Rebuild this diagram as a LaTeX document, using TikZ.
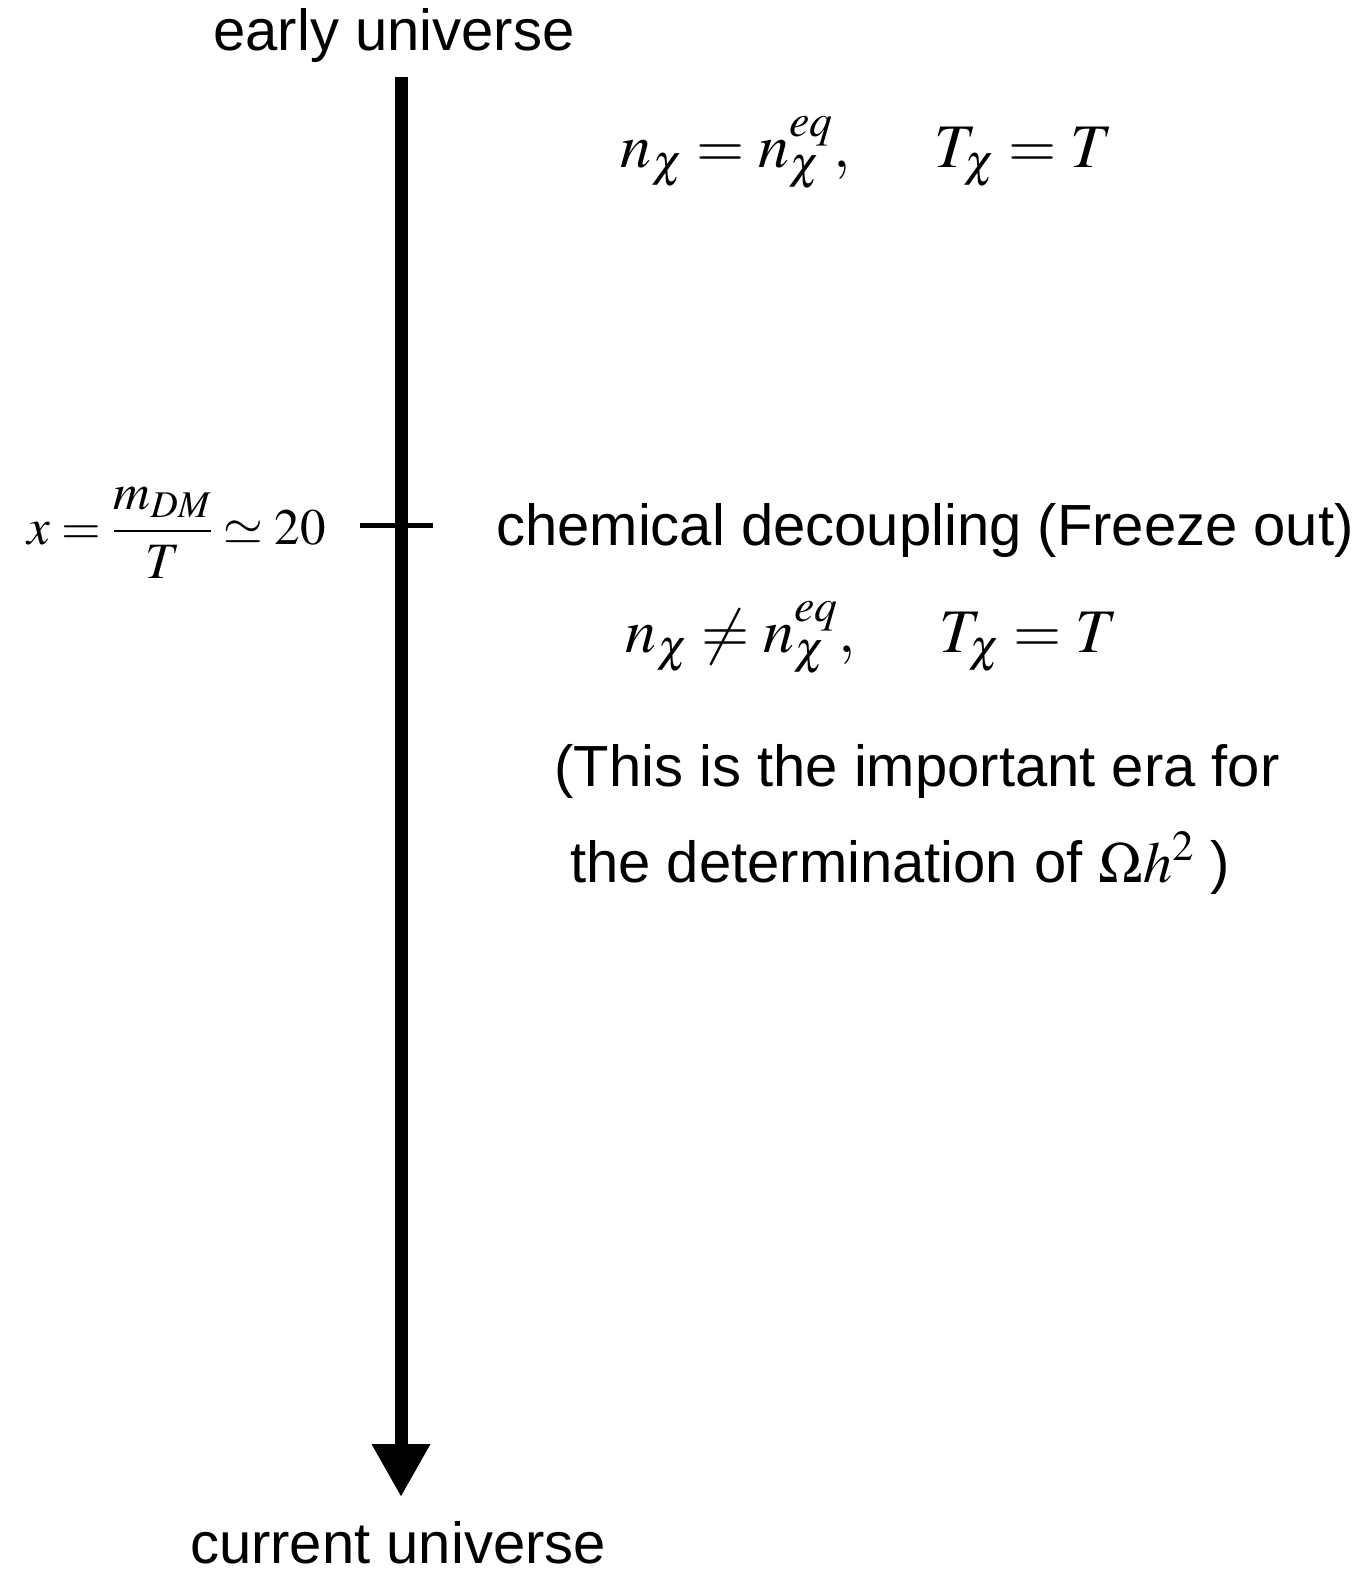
\documentclass[tikz,border=0pt]{standalone}
\usepackage{mathptmx}
\usepackage[no-math]{fontspec}
\setmainfont{Liberation Sans}
\usetikzlibrary{arrows.meta}
\begin{document}
\begin{tikzpicture}[x=1pt,y=-1pt,
  lbl/.style={inner sep=0pt,anchor=base,font=\fontsize{58}{70}\selectfont},
  eqn/.style={inner sep=0pt,anchor=base,font=\fontsize{62}{74}\selectfont},
  axis/.style={line width=13pt,-{Triangle[length=53pt,width=55pt]}},
  tick/.style={line width=5pt}]
\useasboundingbox (0,0) rectangle (1369,1569);
\node[lbl] (early) at (394,50) {early universe};
\node[lbl] (current) at (398,1563) {current universe};
\coordinate (top) at (401,77);
\coordinate (bot) at (401,1497);
\draw[axis] (top) -- (bot);
\coordinate (tl) at (360,525);
\coordinate (tr) at (433,525);
\draw[tick] (tl) -- (tr);
\node[inner sep=0pt,anchor=base east,font=\fontsize{51}{61}\selectfont] (xlab) at (326,544)
  {$x=\displaystyle\frac{m_{DM}}{T}\simeq 20$};
\node[eqn] (eq1) at (867,167) {$n_\chi=n_\chi^{eq},\hspace{1.25em}T_\chi=T$};
\node[lbl] (chem) at (925,545) {chemical decoupling (Freeze out)};
\node[eqn] (eq2) at (872,652) {$n_\chi\neq n_\chi^{eq},\hspace{1.25em}T_\chi=T$};
\node[lbl] (imp1) at (917,786) {(This is the important era for};
\node[lbl] (imp2) at (900,882) {the determination of $\Omega h^2$ )};
\end{tikzpicture}
\end{document}
